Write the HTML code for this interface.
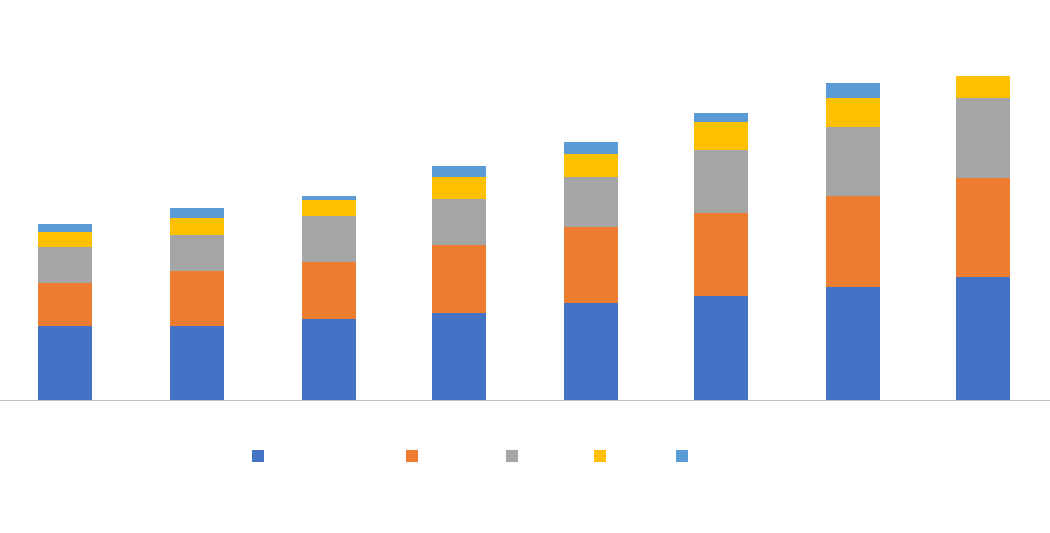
<!DOCTYPE html>
<html><head><meta charset="utf-8"><style>
html,body{margin:0;padding:0;background:#fff;width:1050px;height:533px;overflow:hidden}
</style></head><body>
<svg width="1050" height="533" xmlns="http://www.w3.org/2000/svg">
<rect width="1050" height="533" fill="#fff"/>
<g id="bars"></g>
<line x1="0" y1="400.5" x2="1050" y2="400.5" stroke="#BFBFBF" stroke-width="1"/>
<rect x="252" y="450" width="12" height="12" fill="#4472C4"/>
<rect x="406" y="450" width="12" height="12" fill="#ED7D31"/>
<rect x="506" y="450" width="12" height="12" fill="#A5A5A5"/>
<rect x="594" y="450" width="12" height="12" fill="#FFC000"/>
<rect x="676" y="450" width="12" height="12" fill="#5B9BD5"/>
<!-- bars -->
<g>
<rect x="38" y="326" width="54" height="74" fill="#4472C4"/><rect x="38" y="283" width="54" height="43" fill="#ED7D31"/><rect x="38" y="247" width="54" height="36" fill="#A5A5A5"/><rect x="38" y="232" width="54" height="15" fill="#FFC000"/><rect x="38" y="224" width="54" height="8" fill="#5B9BD5"/>
<rect x="170" y="326" width="54" height="74" fill="#4472C4"/><rect x="170" y="271" width="54" height="55" fill="#ED7D31"/><rect x="170" y="235" width="54" height="36" fill="#A5A5A5"/><rect x="170" y="218" width="54" height="17" fill="#FFC000"/><rect x="170" y="208" width="54" height="10" fill="#5B9BD5"/>
<rect x="302" y="319" width="54" height="81" fill="#4472C4"/><rect x="302" y="262" width="54" height="57" fill="#ED7D31"/><rect x="302" y="216" width="54" height="46" fill="#A5A5A5"/><rect x="302" y="200" width="54" height="16" fill="#FFC000"/><rect x="302" y="196" width="54" height="4" fill="#5B9BD5"/>
<rect x="432" y="313" width="54" height="87" fill="#4472C4"/><rect x="432" y="245" width="54" height="68" fill="#ED7D31"/><rect x="432" y="199" width="54" height="46" fill="#A5A5A5"/><rect x="432" y="177" width="54" height="22" fill="#FFC000"/><rect x="432" y="166" width="54" height="11" fill="#5B9BD5"/>
<rect x="564" y="303" width="54" height="97" fill="#4472C4"/><rect x="564" y="227" width="54" height="76" fill="#ED7D31"/><rect x="564" y="177" width="54" height="50" fill="#A5A5A5"/><rect x="564" y="154" width="54" height="23" fill="#FFC000"/><rect x="564" y="142" width="54" height="12" fill="#5B9BD5"/>
<rect x="694" y="296" width="54" height="104" fill="#4472C4"/><rect x="694" y="213" width="54" height="83" fill="#ED7D31"/><rect x="694" y="150" width="54" height="63" fill="#A5A5A5"/><rect x="694" y="122" width="54" height="28" fill="#FFC000"/><rect x="694" y="113" width="54" height="9" fill="#5B9BD5"/>
<rect x="826" y="287" width="54" height="113" fill="#4472C4"/><rect x="826" y="196" width="54" height="91" fill="#ED7D31"/><rect x="826" y="127" width="54" height="69" fill="#A5A5A5"/><rect x="826" y="98" width="54" height="29" fill="#FFC000"/><rect x="826" y="83" width="54" height="15" fill="#5B9BD5"/>
<rect x="956" y="277" width="54" height="123" fill="#4472C4"/><rect x="956" y="178" width="54" height="99" fill="#ED7D31"/><rect x="956" y="98" width="54" height="80" fill="#A5A5A5"/><rect x="956" y="76" width="54" height="22" fill="#FFC000"/>
</g>
</svg>
</body></html>
